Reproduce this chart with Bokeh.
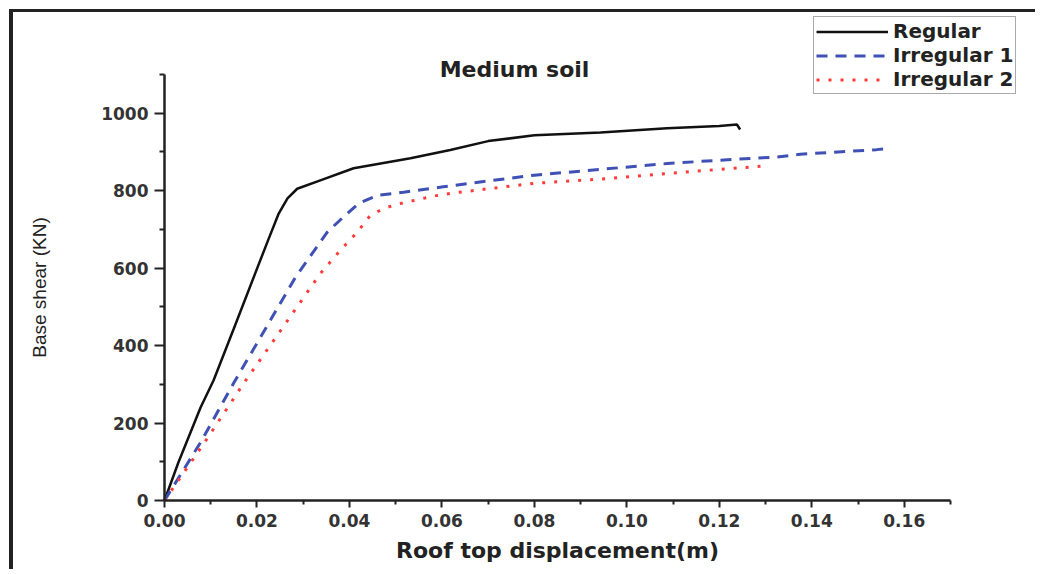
from bokeh.plotting import figure
from bokeh.models import Range1d, FixedTicker, Legend, LegendItem, Label, LinearAxis
from bokeh.embed import file_html
from bokeh.resources import INLINE

# ---------------- data ----------------
reg_x = [0, 0.003, 0.0078, 0.0106, 0.015, 0.0197, 0.0225, 0.0247, 0.0266, 0.0287,
         0.034, 0.0409, 0.0532, 0.0618, 0.07, 0.08, 0.0943, 0.1087, 0.12, 0.1238, 0.1245]
reg_y = [0, 98, 240, 310, 444, 589, 675, 741, 780, 805,
         828, 858, 884, 905, 928, 943, 950, 961, 967, 971, 958]

irr1_x = [0, 0.0078, 0.0149, 0.022, 0.0283, 0.0309, 0.0352, 0.0387, 0.042, 0.046,
          0.0517, 0.0603, 0.07, 0.08, 0.0943, 0.1087, 0.123, 0.1324, 0.1375, 0.154, 0.1555]
irr1_y = [0, 150, 302, 447, 576, 620, 693, 732, 767, 788,
          796, 810, 825, 840, 855, 870, 881, 887, 894, 906, 908]

irr2_x = [0, 0.0085, 0.0171, 0.025, 0.0337, 0.0384, 0.0417, 0.0445, 0.0474, 0.0503,
          0.0582, 0.0618, 0.07, 0.08, 0.0957, 0.1123, 0.1289]
irr2_y = [0, 147, 302, 437, 586, 651, 693, 736, 754, 765,
          786, 793, 805, 819, 831, 848, 863]

series_names = ["Regular", "Irregular 1", "Irregular 2"]

x_ticks = [0.0, 0.02, 0.04, 0.06, 0.08, 0.10, 0.12, 0.14, 0.16]
x_tick_labels = ["0.00", "0.02", "0.04", "0.06", "0.08", "0.10", "0.12", "0.14", "0.16"]
x_minor = [0.01, 0.03, 0.05, 0.07, 0.09, 0.11, 0.13, 0.15, 0.17]
y_ticks = [0, 200, 400, 600, 800, 1000]
y_tick_labels = ["0", "200", "400", "600", "800", "1000"]
y_minor = [100, 300, 500, 700, 900, 1100]
x_axis_span = (0, 0.17)
y_axis_span = (0, 1100)

title_text = "Medium soil"
x_label = "Roof top displacement(m)"
y_label = "Base shear (KN)"

# ---------------- figure ----------------
W, H = 1026, 560
# frame covers the whole canvas; axes are pinned at x=0 / y=0
X0, X1 = -0.03266, 0.18925
Y0, Y1 = -185.9, 1260.1
p = figure(width=W, height=H, output_backend="svg", toolbar_location=None,
           x_range=Range1d(X0, X1), y_range=Range1d(Y0, Y1),
           x_axis_location=None, y_axis_location=None,
           min_border=0)
p.styles = {"border-left": "4px solid #222", "border-top": "3px solid #222",
            "margin-left": "9px", "margin-top": "9px"}
p.outline_line_color = None
p.grid.visible = False
p.background_fill_color = "white"
p.border_fill_color = "white"

xax = LinearAxis(fixed_location=0, bounds=x_axis_span,
                 ticker=FixedTicker(ticks=x_ticks, minor_ticks=x_minor))
yax = LinearAxis(fixed_location=0, bounds=y_axis_span,
                 ticker=FixedTicker(ticks=y_ticks, minor_ticks=y_minor))
xax.major_label_overrides = dict(zip(x_ticks, x_tick_labels))
yax.major_label_overrides = dict(zip(y_ticks, y_tick_labels))

for ax in (xax, yax):
    ax.axis_line_width = 2.5
    ax.axis_line_color = "#222"
    ax.major_tick_line_width = 2
    ax.minor_tick_line_width = 2
    ax.major_tick_line_color = "#222"
    ax.minor_tick_line_color = "#222"
    ax.major_tick_in = 0
    ax.minor_tick_in = 0
    ax.major_label_text_font = "DejaVu Sans"
    ax.major_label_text_font_style = "bold"
    ax.major_label_text_font_size = "17px"
    ax.major_label_text_color = "#333"

xax.major_tick_out = 7
xax.minor_tick_out = 4
yax.major_tick_out = 10
yax.minor_tick_out = 5
xax.major_label_standoff = 6
yax.major_label_standoff = 6

xax.axis_label = x_label
xax.axis_label_text_font = "DejaVu Sans"
xax.axis_label_text_font_style = "bold"
xax.axis_label_text_font_size = "22px"
xax.axis_label_text_color = "#222"
xax.axis_label_standoff = 8

yax.axis_label = y_label
yax.axis_label_text_font = "Liberation Sans"
yax.axis_label_text_font_style = "normal"
yax.axis_label_text_font_size = "19px"
yax.axis_label_text_color = "#222"
yax.axis_label_standoff = 48

p.add_layout(xax, "below")
p.add_layout(yax, "left")

r1 = p.line(reg_x, reg_y, line_color="#111", line_width=2.5)
r2 = p.line(irr1_x, irr1_y, line_color="#3f51b5", line_width=3, line_dash="11 8")
r3 = p.line(irr2_x, irr2_y, line_color="#ff3b3b", line_width=3, line_dash="3 9")

legend = Legend(items=[LegendItem(label=series_names[0], renderers=[r1]),
                       LegendItem(label=series_names[1], renderers=[r2]),
                       LegendItem(label=series_names[2], renderers=[r3])],
                location=(800, 478), orientation="vertical")
legend.label_text_font = "DejaVu Sans"
legend.label_text_font_style = "bold"
legend.label_text_font_size = "20px"
legend.label_text_color = "#222"
legend.glyph_width = 72
legend.glyph_height = 21
legend.label_height = 21
legend.label_standoff = 5
legend.spacing = 0
legend.padding = 2
legend.margin = 0
legend.border_line_color = "#555"
legend.border_line_width = 1.5
legend.background_fill_alpha = 1
p.add_layout(legend)

t = Label(x=0.0757, y=1113, text=title_text, text_align="center", text_baseline="alphabetic",
          text_font="DejaVu Sans", text_font_style="bold", text_font_size="22px", text_color="#222")
p.add_layout(t)

open("out.html", "w").write(file_html(p, INLINE))
